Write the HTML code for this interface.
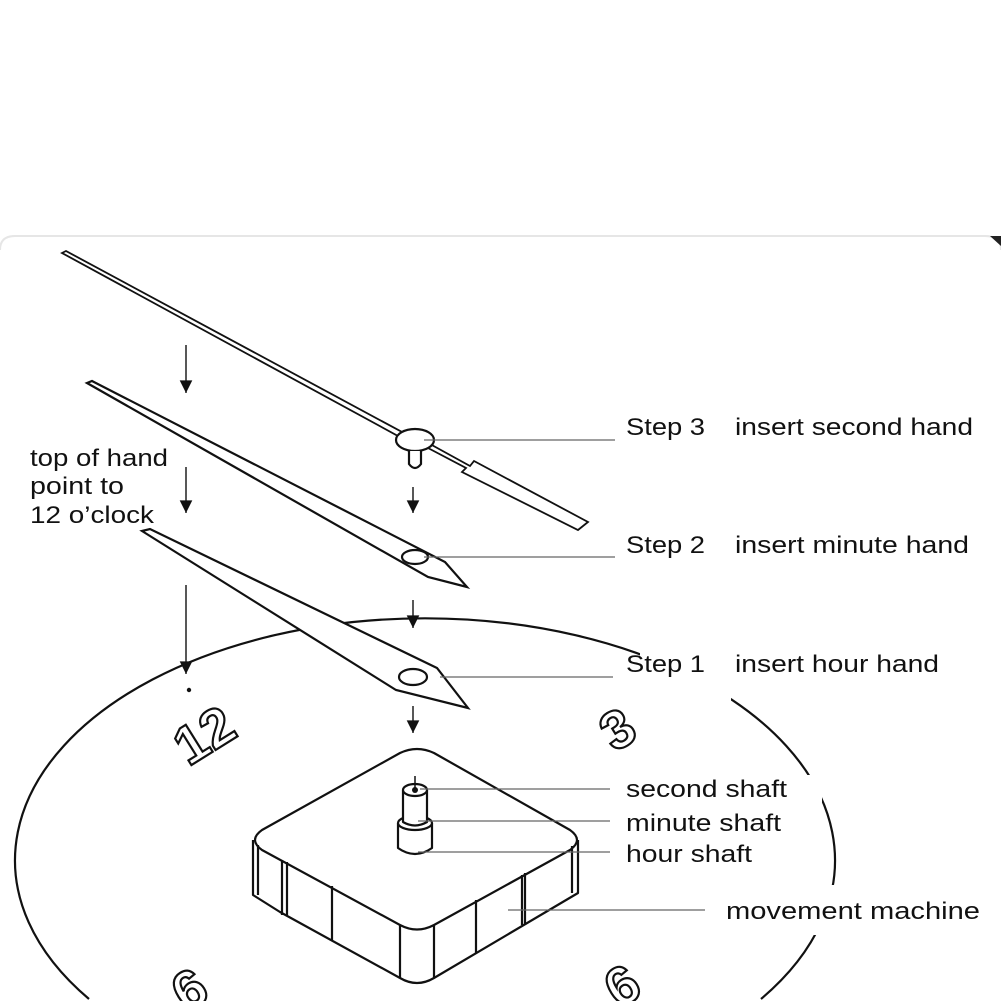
<!DOCTYPE html>
<html><head><style>
html,body{margin:0;padding:0;background:#fff;overflow:hidden;width:1001px;height:1001px;}
svg{display:block;overflow:hidden}
text{font-family:"Liberation Sans",sans-serif;fill:#111;}
</style></head><body>
<svg width="1001" height="1001" viewBox="0 0 1001 1001" xmlns="http://www.w3.org/2000/svg">
<defs>
<marker id="a2" viewBox="0 0 10 10" markerWidth="9" markerHeight="10" refX="5" refY="10" orient="0"><path d="M0,0 L10,0 L5,10Z" fill="#111"/></marker></defs>
<rect width="1001" height="1001" fill="#fff"/>
<path d="M0,250 Q0,236 15,236 L985,236 Q1001,236 1001,250" fill="none" stroke="#e6e6e6" stroke-width="2"/>
<path d="M990,236 L1001,236 L1001,246 Z" fill="#222"/>
<path d="M89,999 A410,242 0 1 1 761,999" fill="none" stroke="#111" stroke-width="2.2"/>
<g fill="#fff">
<rect x="616" y="405" width="380" height="40"/>
<rect x="616" y="523" width="380" height="40"/>
<rect x="640" y="642" width="356" height="40"/>
<rect x="616" y="682" width="115" height="22"/>
<rect x="612" y="775" width="210" height="93"/>
<rect x="705" y="885" width="290" height="50"/>
</g>
<g fill="none" stroke="#111" stroke-width="2.2">
<path d="M62,253 L66,251 L402,432 L398,436 Z" stroke-width="1.8" fill="#fff"/>
<path d="M430,444 L470,466 L474,461 L588,522 L578,530 L462,472 L466,468 L428,448" stroke-width="1.8" fill="#fff"/>
<ellipse cx="415" cy="440" rx="19" ry="11" fill="#fff"/>
<path d="M409,451 V464 Q415,472 421,464 V451" fill="#fff"/>
<path d="M87,383 L92,381 L445,562 L467,587 L428,577 Z" fill="#fff"/>
<ellipse cx="415" cy="557" rx="13" ry="7"/>
<path d="M142,531 L150,529 L437,668 L468,708 L396,690 Z" fill="#fff"/>
<ellipse cx="413" cy="677" rx="14" ry="8"/>
</g>
<g stroke="#111" stroke-width="1.4" fill="none">
<line x1="186" y1="345" x2="186" y2="393" marker-end="url(#a2)"/>
<line x1="186" y1="467" x2="186" y2="513" marker-end="url(#a2)"/>
<line x1="186" y1="585" x2="186" y2="674" marker-end="url(#a2)"/>
<line x1="413" y1="487" x2="413" y2="513" marker-end="url(#a2)"/>
<line x1="413" y1="600" x2="413" y2="628" marker-end="url(#a2)"/>
<line x1="413" y1="706" x2="413" y2="733" marker-end="url(#a2)"/>
</g>
<circle cx="189" cy="690" r="2.2" fill="#111"/>
<g fill="#fff" stroke="#111" stroke-width="2.2" stroke-linejoin="round">
<path d="M253,840 L253,895 L280,912 L400,978 Q417,988 434,978 L578,893 L578,840"/>
<path d="M400,753 Q417,745 434,753 L570,830 Q584,840 570,850 L434,925 Q417,934 400,925 L262,850 Q248,840 262,830 Z"/>
<path d="M258,845 V895 M282,860 V915 M287,862 V915 M332,886 V940 M400,925 V978 M434,925 V978 M476,900 V953 M522,875 V925 M525,873 V925 M572,846 V893" fill="none"/>
<path d="M398,823 V848 Q415,860 432,848 V823"/>
<ellipse cx="415" cy="823" rx="17" ry="7"/>
<path d="M403,790 V822 Q415,829 427,822 V790"/>
<ellipse cx="415" cy="790" rx="12" ry="6"/>
</g>
<circle cx="415" cy="790" r="3" fill="#111"/>
<line x1="415" y1="776" x2="415" y2="788" stroke="#111" stroke-width="1.5"/>
<g stroke="#666" stroke-width="1.3">
<line x1="424" y1="440" x2="615" y2="440"/>
<line x1="424" y1="557" x2="615" y2="557"/>
<line x1="440" y1="677" x2="613" y2="677"/>
<line x1="420" y1="789" x2="610" y2="789"/>
<line x1="418" y1="821" x2="610" y2="821"/>
<line x1="418" y1="852" x2="610" y2="852"/>
<line x1="508" y1="910" x2="705" y2="910"/>
</g>
<g font-family="Liberation Sans" font-weight="bold" font-size="54" stroke="#111" stroke-width="2.2">
<text x="165" y="745" transform="rotate(-32 215 715)" style="fill:#fff">12</text>
<text x="598" y="745" transform="rotate(-32 620 720)" style="fill:#fff">3</text>
<text x="178" y="1000" transform="rotate(148 190 985)" style="fill:#fff">9</text>
<text x="608" y="1000" transform="rotate(-32 630 985)" style="fill:#fff">6</text>
</g>
<g font-size="24">
<text x="30" y="466" textLength="138" lengthAdjust="spacingAndGlyphs">top of hand</text>
<text x="30" y="494" textLength="94" lengthAdjust="spacingAndGlyphs">point to</text>
<text x="30" y="523" textLength="124" lengthAdjust="spacingAndGlyphs">12 o’clock</text>
<text x="626" y="435" textLength="79" lengthAdjust="spacingAndGlyphs">Step 3</text><text x="735" y="435" textLength="238" lengthAdjust="spacingAndGlyphs">insert second hand</text>
<text x="626" y="553" textLength="79" lengthAdjust="spacingAndGlyphs">Step 2</text><text x="735" y="553" textLength="234" lengthAdjust="spacingAndGlyphs">insert minute hand</text>
<text x="626" y="672" textLength="79" lengthAdjust="spacingAndGlyphs">Step 1</text><text x="735" y="672" textLength="204" lengthAdjust="spacingAndGlyphs">insert hour hand</text>
<text x="626" y="797" textLength="161" lengthAdjust="spacingAndGlyphs">second shaft</text>
<text x="626" y="831" textLength="155" lengthAdjust="spacingAndGlyphs">minute shaft</text>
<text x="626" y="862" textLength="126" lengthAdjust="spacingAndGlyphs">hour shaft</text>
<text x="726" y="919" textLength="254" lengthAdjust="spacingAndGlyphs">movement  machine</text>
</g>
</svg>
</body></html>
